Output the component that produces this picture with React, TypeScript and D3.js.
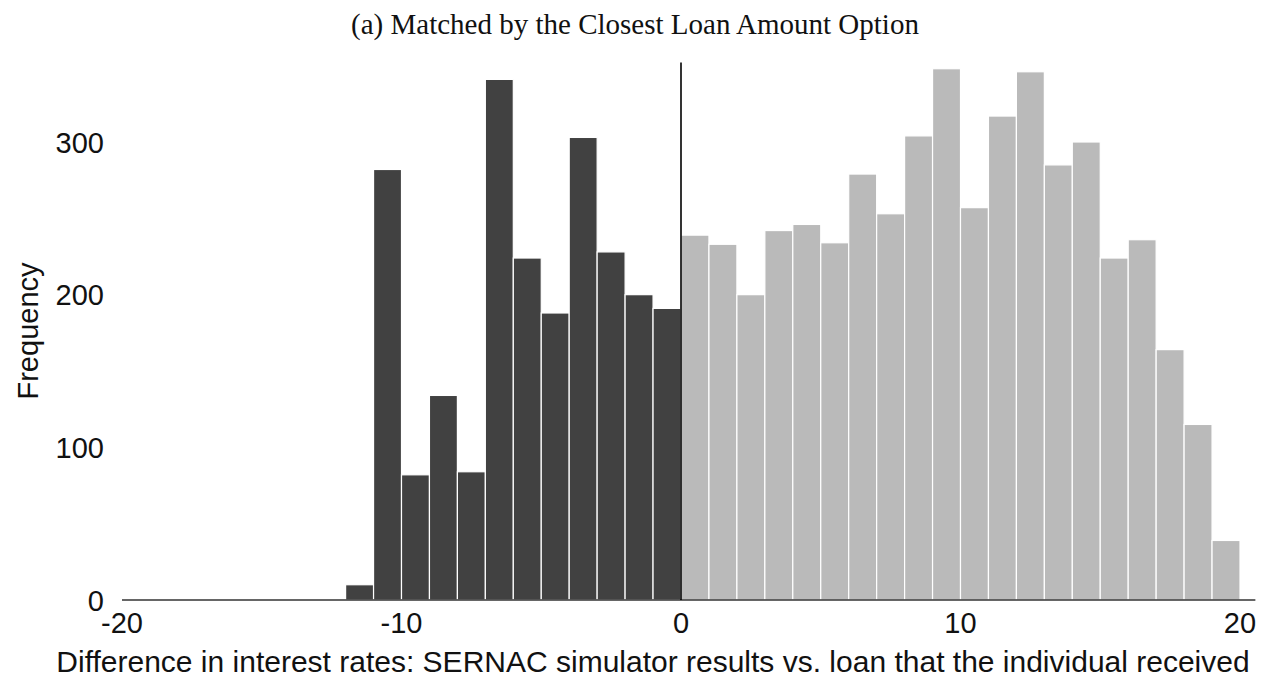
import React, { useRef, useEffect } from 'react';
import * as d3 from 'd3';

// histogram bins (width 1) and counts
const negStarts = [-12, -11, -10, -9, -8, -7, -6, -5, -4, -3, -2, -1];
const negCounts = [10, 282, 82, 134, 84, 341, 224, 188, 303, 228, 200, 191];
const posStarts = [0, 1, 2, 3, 4, 5, 6, 7, 8, 9, 10, 11, 12, 13, 14, 15, 16, 17, 18, 19];
const posCounts = [239, 233, 200, 242, 246, 234, 279, 253, 304, 348, 257, 317, 346, 285, 300, 224, 236, 164, 115, 39];
const xTicks = [-20, -10, 0, 10, 20];
const yTicks = [0, 100, 200, 300];

const W = 1272;
const H = 679;

const App = () => {
  const svgRef = useRef<SVGSVGElement | null>(null);

  useEffect(() => {
    const svg = d3.select(svgRef.current);
    svg.selectAll('*').remove();

    const x = d3.scaleLinear().domain([-20, 20]).range([122, 1240]);
    const y = d3.scaleLinear().domain([0, 300]).range([600, 142]);
    const sans = '"Liberation Sans", Arial, Helvetica, sans-serif';

    const bins = [
      ...negStarts.map((s, i) => ({ s, n: negCounts[i], fill: '#414141' })),
      ...posStarts.map((s, i) => ({ s, n: posCounts[i], fill: '#bababa' })),
    ];

    svg.append('g')
      .selectAll('rect')
      .data(bins)
      .enter()
      .append('rect')
      .attr('x', d => x(d.s))
      .attr('y', d => y(d.n))
      .attr('width', d => x(d.s + 1) - x(d.s))
      .attr('height', d => y(0) - y(d.n))
      .attr('fill', d => d.fill)
      .attr('stroke', '#ffffff')
      .attr('stroke-width', 1.2);

    // x axis line
    svg.append('line')
      .attr('x1', x(-20)).attr('x2', x(20.55))
      .attr('y1', y(0)).attr('y2', y(0))
      .attr('stroke', '#333')
      .attr('stroke-width', 1.3);

    // vertical reference line at zero
    svg.append('line')
      .attr('x1', x(0)).attr('x2', x(0))
      .attr('y1', y(352)).attr('y2', y(0))
      .attr('stroke', '#000')
      .attr('stroke-width', 1.6);

    svg.append('g')
      .selectAll('text')
      .data(xTicks)
      .enter()
      .append('text')
      .attr('x', d => x(d))
      .attr('y', 633)
      .attr('text-anchor', 'middle')
      .style('font-family', sans)
      .style('font-size', '29px')
      .attr('fill', '#111')
      .text(d => d);

    svg.append('g')
      .selectAll('text')
      .data(yTicks)
      .enter()
      .append('text')
      .attr('x', 104)
      .attr('y', d => y(d) + 10.5)
      .attr('text-anchor', 'end')
      .style('font-family', sans)
      .style('font-size', '29px')
      .attr('fill', '#111')
      .text(d => d);

    svg.append('text')
      .attr('transform', 'translate(38,331) rotate(-90)')
      .attr('text-anchor', 'middle')
      .style('font-family', sans)
      .style('font-size', '29px')
      .attr('fill', '#111')
      .text('Frequency');

    svg.append('text')
      .attr('x', 653)
      .attr('y', 672)
      .attr('text-anchor', 'middle')
      .style('font-family', sans)
      .style('font-size', '30px')
      .attr('fill', '#111')
      .text('Difference in interest rates: SERNAC simulator results vs. loan that the individual received');

    svg.append('text')
      .attr('x', 635)
      .attr('y', 34)
      .attr('text-anchor', 'middle')
      .style('font-family', '"Liberation Serif", "Times New Roman", serif')
      .style('font-size', '29px')
      .attr('fill', '#111')
      .text('(a) Matched by the Closest Loan Amount Option');
  }, []);

  return (
    <svg
      ref={svgRef}
      width={W}
      height={H}
      style={{ position: 'absolute', left: 0, top: 0, background: '#fff' }}
    />
  );
};

export default App;
